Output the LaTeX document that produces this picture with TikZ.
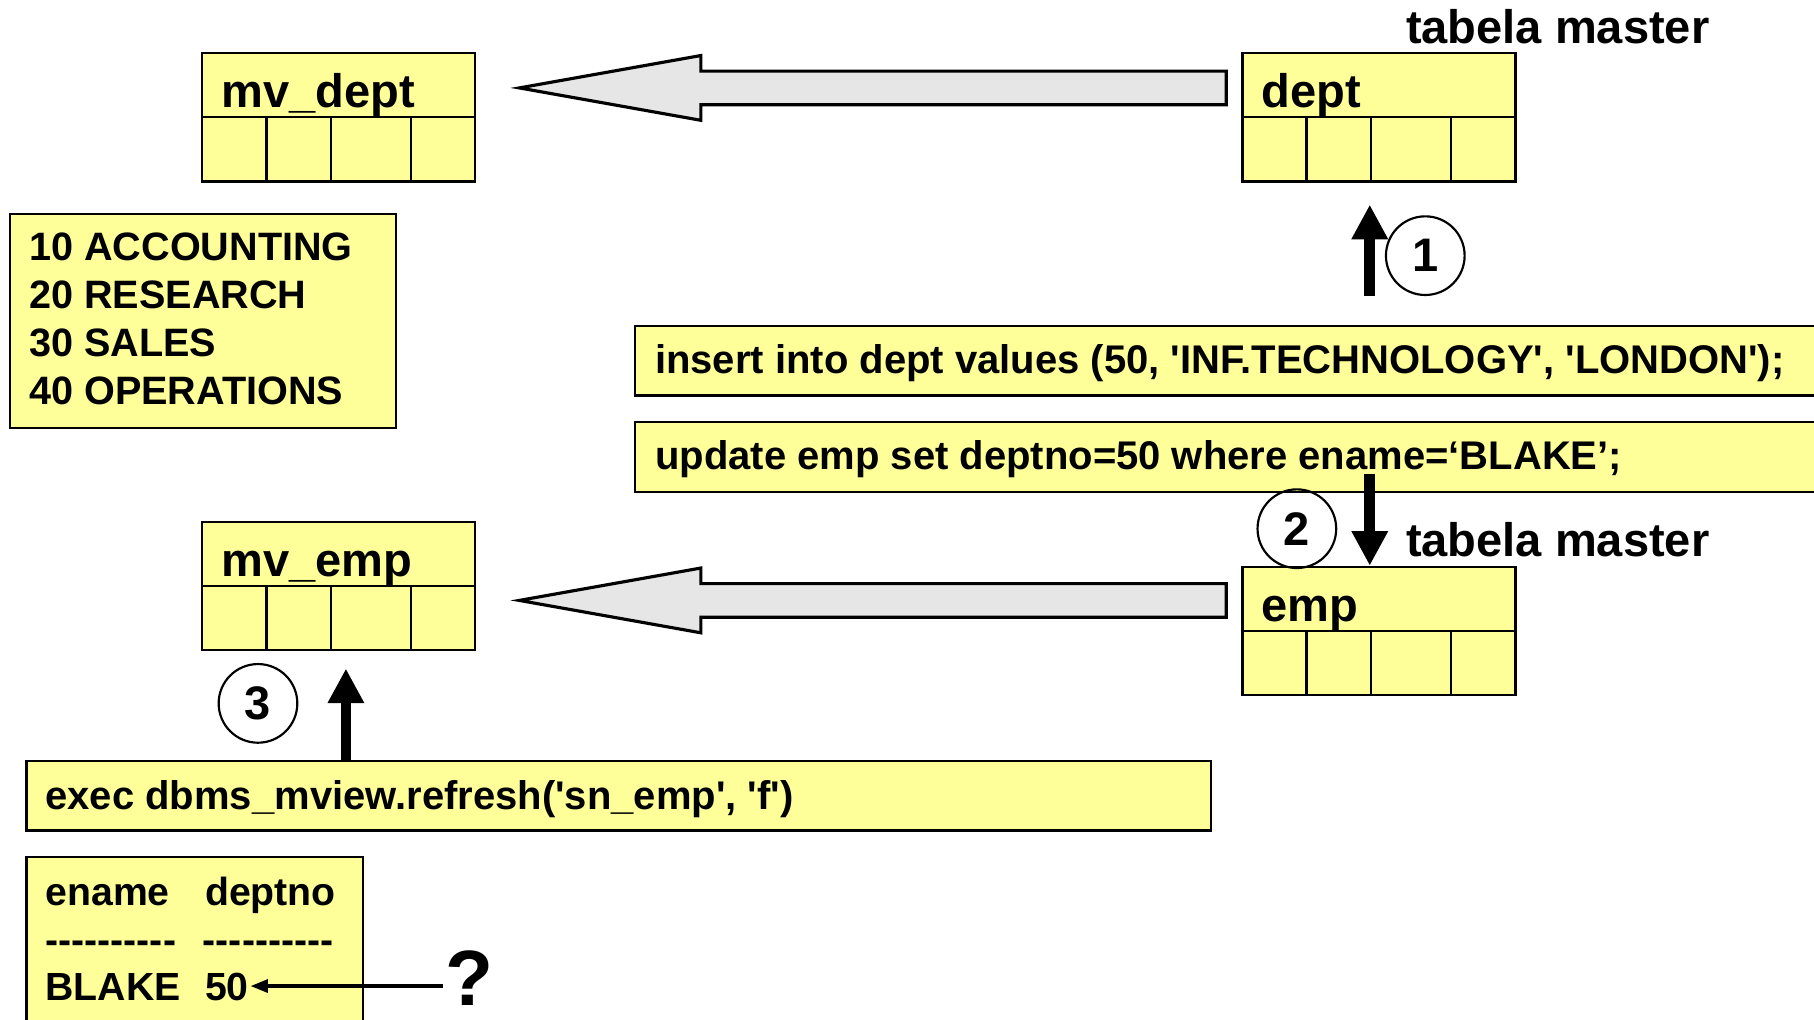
\documentclass[tikz,border=0pt]{standalone}
\usepackage{fontspec}
\newfontfamily\lsans{Liberation Sans}
\usetikzlibrary{arrows.meta,calc}

\definecolor{noteyellow}{HTML}{FFFF99}
\definecolor{arrowgray}{HTML}{E6E6E6}
\newcommand*\upx{0.59pt}

\begin{document}
\begin{tikzpicture}[x=0.59pt, y=-0.59pt,
  cell/.style={draw, line width=1.1pt, fill=noteyellow, inner sep=0pt, anchor=north west},
  tbl/.style={cell, minimum width=236*\upx, minimum height=111*\upx},
  grid/.style={line width=1.1pt},
  title/.style={anchor=base west, inner sep=0pt, font=\lsans\bfseries\fontsize{24}{28}\selectfont},
  code/.style={anchor=base west, inner sep=0pt, font=\lsans\bfseries\fontsize{20.4}{24}\selectfont},
  result/.style={anchor=base west, inner sep=0pt, font=\lsans\bfseries\fontsize{20}{24}\selectfont},
  small/.style={anchor=base west, inner sep=0pt, font=\lsans\bfseries\fontsize{20.2}{24}\selectfont},
  numcirc/.style={circle, draw, line width=1.1pt, minimum size=68*\upx, inner sep=0pt,
    font=\lsans\bfseries\fontsize{24}{28}\selectfont},
  hollow/.style={draw, line width=1.6pt, fill=arrowgray, line join=miter},
  fatarrow/.style={line width=5.4pt, -{Triangle[width=17.5pt, length=17.7pt]}},
  thinarrow/.style={line width=2pt, -{Triangle[width=6.5pt, length=9pt]}},
]
\useasboundingbox (0,0) rectangle (1568,881);
\clip (0,0) rectangle (1568,881);
\fill[white] (0,0) rectangle (1568,881);

% tables
\node[tbl] (mvdept) at (174,45) {};
\node[tbl] (dept) at (1073,45) {};
\node[tbl] (mvemp) at (174,450) {};
\node[tbl] (emp) at (1073,489) {};
\foreach \t/\lbl in {mvdept/mv\_dept, dept/dept, mvemp/mv\_emp, emp/emp} {
  \draw[grid] (\t.west) -- (\t.east);
  \foreach \f in {0.237,0.472,0.763}
    \draw[grid] ($(\t.west)!\f!(\t.east)$) -- ($(\t.south west)!\f!(\t.south east)$);
  \node[title] (\t-name) at ($(\t.north west)+(17,48)$) {\lbl};
}

% master labels
\node[title] (master1) at (1215,38) {tabela master};
\node[title] (master2) at (1215,481) {tabela master};

% replication arrows from the master tables to the views
\coordinate (tail1) at ($(dept.north west)+(-13,31)$);
\coordinate (tip1) at ($(mvdept.east |- tail1)+(37,0)$);
\draw[hollow] ($(tail1)+(0,-14.5)$) -- ($(tip1)+(157,-14.5)$) -- ($(tip1)+(157,-28)$)
  -- (tip1) -- ($(tip1)+(157,28)$) -- ($(tip1)+(157,14.5)$) -- ($(tail1)+(0,14.5)$) -- cycle;
\coordinate (tail2) at ($(emp.north west)+(-13,30)$);
\coordinate (tip2) at ($(mvemp.east |- tail2)+(37,0)$);
\draw[hollow] ($(tail2)+(0,-14.5)$) -- ($(tip2)+(157,-14.5)$) -- ($(tip2)+(157,-28)$)
  -- (tip2) -- ($(tip2)+(157,28)$) -- ($(tip2)+(157,14.5)$) -- ($(tail2)+(0,14.5)$) -- cycle;

% department list
\node[cell, minimum width=333*\upx, minimum height=185*\upx] (depts) at (8,184) {};
\node[small] (acc1) at ($(depts.north west)+(17,41)$) {10 ACCOUNTING};
\node[small] (acc2) at ($(depts.north west)+(17,83)$) {20 RESEARCH};
\node[small] (acc3) at ($(depts.north west)+(17,124)$) {30 SALES};
\node[small] (acc4) at ($(depts.north west)+(17,166)$) {40 OPERATIONS};

% statements
\node[cell, minimum width=1040*\upx, minimum height=60*\upx] (ins) at (548,281) {};
\node[code] (ins-text) at ($(ins.north west)+(18,42)$)
  {insert into dept values (50, 'INF.TECHNOLOGY', 'LONDON');};
\node[cell, minimum width=1040*\upx, minimum height=60*\upx] (upd) at (548,364) {};
\node[code] (upd-text) at ($(upd.north west)+(18,42)$)
  {update emp set deptno=50 where ename=‘BLAKE’;};
\node[cell, minimum width=1024*\upx, minimum height=60*\upx] (exec) at (22,657) {};
\node[code] (exec-text) at ($(exec.north west)+(17,43)$)
  {exec dbms\_mview.refresh('sn\_emp', 'f')};

% query result
\node[cell, minimum width=291*\upx, minimum height=170*\upx] (res) at (22,740) {};
\node[result] (h1) at ($(res.north west)+(17,43)$) {ename};
\node[result] (h2) at ($(res.north west)+(155,43)$) {deptno};
\node[result] (d1) at ($(res.north west)+(17,84)$) {----------};
\node[result] (d2) at ($(res.north west)+(153,84)$) {----------};
\node[result] (r1) at ($(res.north west)+(17,125)$) {BLAKE};
\node[result] (r2) at ($(res.north west)+(155,125)$) {50};
\node[anchor=base west, inner sep=0pt, font=\lsans\bfseries\fontsize{40}{44}\selectfont]
  (quest) at (385,869) {?};
\draw[thinarrow] ($(quest.west)+(-2,7)$) -- ($(r2.east |- quest.west)+(1,7)$);

% step arrows and numbers
\draw[fatarrow] ($(ins.north -| dept.south west)+(111,-25)$) -- ($(dept.south west)+(111,19)$);
\draw[fatarrow] ($(upd.south -| emp.north west)+(111,-16)$) -- ($(emp.north west)+(111,0)$);
\draw[fatarrow] ($(exec.north -| mvemp.south west)+(125,0)$) -- ($(mvemp.south west)+(125,15)$);
\node[numcirc] (n1) at (1232,221) {1};
\node[numcirc] (n2) at (1121,457) {2};
\node[numcirc] (n3) at (223,608) {3};
\end{tikzpicture}
\end{document}
